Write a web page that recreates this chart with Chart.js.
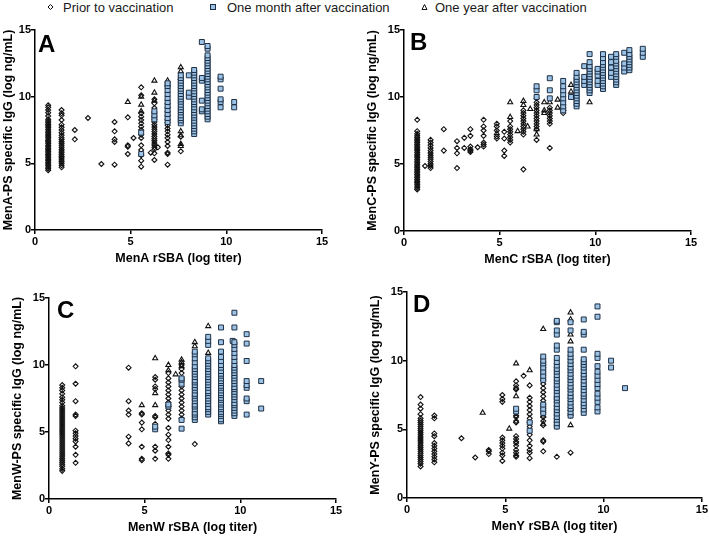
<!DOCTYPE html>
<html>

<head>
    <title>MenACWY rSBA vs PS-specific IgG</title>
    <style>
        body {
            margin: 0;
            background: #fff;
            font-family: "Liberation Sans", Arial, sans-serif;
        }

        #wrap {
            position: relative;
            width: 709px;
            height: 540px;
            overflow: hidden;
        }

        #wrap canvas {
            position: absolute;
            left: 0;
            top: 0;
        }

        .lg {
            position: absolute;
            top: 0;
            height: 15px;
            line-height: 15px;
            font-size: 13px;
            color: #1a1a1a;
            white-space: nowrap;
        }

        .lg svg {
            position: absolute;
            top: 2px;
            left: 0;
        }

        .lg span {
            position: absolute;
        }
    </style>
</head>

<body>
    <div id="wrap">
        <div class="lg" style="left:46px">
            <svg width="9" height="10"><polygon points="4.5,2.5 7,5 4.5,7.5 2,5" fill="none" stroke="#111" stroke-width="1"/></svg>
            <span style="left:17px">Prior to vaccination</span>
        </div>
        <div class="lg" style="left:209px">
            <svg width="9" height="10"><rect x="1.5" y="2.5" width="5" height="5" fill="#9cc3e6" stroke="#1d2f45" stroke-width="1"/></svg>
            <span style="left:18px">One month after vaccination</span>
        </div>
        <div class="lg" style="left:420px">
            <svg width="9" height="10"><polygon points="4.5,2.5 7,7.5 2,7.5" fill="none" stroke="#111" stroke-width="1"/></svg>
            <span style="left:15px">One year after vaccination</span>
        </div>
        <canvas id="panelA" width="709" height="540"></canvas>
        <canvas id="panelB" width="709" height="540"></canvas>
        <canvas id="panelC" width="709" height="540"></canvas>
        <canvas id="panelD" width="709" height="540"></canvas>
    </div>

    <script src="https://cdn.jsdelivr.net/npm/chart.js"></script>

    <script>
        // each entry: [rSBA log titer, [IgG log ng/mL values in that column]]
        const priorA = [
            [0.69, [4.48, 4.6, 4.72, 4.85, 4.95, 5.08, 5.2, 5.3, 5.42, 5.55, 5.65, 5.78, 5.9, 6.0, 6.12, 6.25, 6.35, 6.48, 6.6, 6.7, 6.82, 6.95, 7.05, 7.18, 7.3, 7.42, 7.55, 7.68, 7.8, 7.92, 8.05, 8.18, 8.3, 8.55, 8.8, 9.0, 9.2, 9.35]],
            [1.39, [4.7, 4.85, 5.0, 5.12, 5.25, 5.4, 5.52, 5.65, 5.8, 5.92, 6.05, 6.2, 6.35, 6.5, 6.62, 6.78, 6.92, 7.1, 7.3, 7.5, 7.7, 7.9, 8.25, 8.6, 8.75, 9.0]],
            [2.08, [6.8, 7.5]],
            [2.77, [8.4]],
            [3.47, [4.95]],
            [4.16, [4.9, 6.6, 6.8, 7.4, 8.1]],
            [4.85, [5.7, 6.25, 6.35, 8.45]],
            [5.15, [6.9]],
            [5.55, [4.75, 5.2, 5.6, 6.0, 6.35, 6.9, 7.15, 7.5, 7.75, 8.0, 8.25, 8.5, 8.75, 10.1, 10.7]],
            [6.05, [5.8]],
            [6.24, [5.25, 5.75, 6.05, 6.2, 6.38, 6.52, 6.7, 6.85, 7.02, 7.2, 7.38, 7.55, 7.72, 7.9, 8.1, 8.3, 8.55, 8.85, 9.15, 9.5, 9.8]],
            [6.42, [6.2]],
            [6.93, [4.9, 5.7, 5.8, 6.3, 6.6, 6.9, 7.15, 7.4, 7.62, 7.85, 8.05, 8.3, 8.6, 8.9, 9.2, 9.5]],
            [7.62, [5.9, 7.0]]
        ];
        const monthA = [
            [5.55, [5.7, 7.3]],
            [6.24, [8.3, 8.6, 8.9]],
            [6.93, [8.1, 8.4, 8.7, 9.0, 9.3, 9.6, 9.9, 10.2, 10.5, 10.8, 11.0]],
            [7.62, [8.0, 8.22, 8.4, 8.6, 8.82, 9.0, 9.2, 9.4, 9.62, 9.8, 10.0, 10.2, 10.42, 10.6, 10.8, 11.0, 11.2, 11.4, 11.6]],
            [8.04, [10.0, 10.3, 11.6]],
            [8.32, [7.2, 7.4, 7.6, 7.8, 8.0, 8.2, 8.42, 8.6, 8.8, 9.0, 9.2, 9.42, 9.6, 9.8, 10.0, 10.2, 10.4, 10.62, 10.8, 11.0, 11.2, 11.4, 11.6, 11.8, 12.0]],
            [8.72, [8.9, 9.05, 9.7, 11.2, 11.4, 14.1]],
            [9.02, [8.3, 8.5, 8.7, 8.9, 9.1, 9.3, 9.5, 9.7, 9.9, 10.1, 10.3, 10.5, 10.7, 10.9, 11.1, 11.3, 11.5, 11.7, 11.9, 12.1, 12.3, 12.5, 12.7, 12.9, 13.1, 13.6, 13.8]],
            [9.70, [9.2, 9.6, 9.8, 10.6, 11.3, 11.5]],
            [10.41, [9.2, 9.6]]
        ];
        const yearA = [
            [4.85, [9.6]],
            [5.55, [8.9, 9.4, 10.0]],
            [6.24, [9.7, 10.3, 11.2]],
            [6.93, [10.9, 11.2]],
            [7.62, [6.3, 6.45, 7.1, 7.4, 11.4, 11.9, 12.2]]
        ];

        const priorB = [
            [0.69, [3.1, 3.22, 3.35, 3.48, 3.6, 3.72, 3.85, 3.98, 4.1, 4.22, 4.35, 4.48, 4.6, 4.72, 4.85, 4.98, 5.1, 5.22, 5.35, 5.48, 5.6, 5.72, 5.85, 5.98, 6.1, 6.22, 6.35, 6.48, 6.6, 6.72, 6.85, 6.98, 7.1, 7.25, 7.45, 8.3]],
            [1.10, [4.85]],
            [1.39, [4.7, 4.85, 5.0, 5.18, 5.35, 5.5, 5.65, 5.82, 6.0, 6.2, 6.4, 6.6, 6.8]],
            [2.08, [6.0, 7.6]],
            [2.77, [4.7, 5.8, 6.2, 6.7]],
            [3.15, [6.2, 6.95]],
            [3.47, [5.9, 6.0, 6.1, 6.3, 7.1, 7.6]],
            [3.85, [6.25]],
            [4.16, [6.3, 6.45, 6.6, 7.1, 7.5, 7.8, 8.3]],
            [4.85, [6.9, 7.05, 7.5, 7.8, 8.0]],
            [5.24, [5.6, 6.0, 6.9, 7.4]],
            [5.55, [6.6, 6.8, 7.0, 7.2, 7.4, 7.6, 7.8, 8.2]],
            [6.24, [4.6, 7.2, 7.4, 7.6, 7.8, 8.0, 8.2, 8.4, 8.6, 8.8, 9.0]],
            [6.93, [6.8, 7.6, 7.8, 8.0, 8.2, 8.4, 8.6, 8.8, 9.0, 9.2, 9.4, 9.6, 9.9]],
            [7.62, [6.2, 8.0, 8.2, 8.4, 8.6, 8.8, 9.0, 9.2]],
            [8.32, [8.8, 9.0, 9.2, 9.4]]
        ];
        const monthB = [
            [6.93, [10.0, 10.5, 10.8]],
            [7.62, [9.9, 10.5, 11.4]],
            [8.32, [9.0, 9.3, 9.6, 9.9, 10.2, 10.5, 10.8, 11.2]],
            [8.73, [10.0]],
            [9.02, [9.3, 9.5, 9.7, 9.9, 10.1, 10.3, 10.5, 10.7, 10.9, 11.1, 11.3, 11.5, 11.8]],
            [9.42, [10.9, 11.2, 11.5, 12.3]],
            [9.70, [10.3, 10.5, 10.7, 10.9, 11.1, 11.3, 11.5, 11.7, 11.9, 12.1, 12.3, 12.6, 13.2]],
            [10.12, [10.9, 11.2, 11.6, 11.9, 12.1]],
            [10.40, [10.6, 10.8, 11.0, 11.2, 11.4, 11.6, 11.8, 12.0, 12.2, 12.4, 12.6, 12.9, 13.2]],
            [10.82, [11.5, 11.8, 12.2, 12.6, 13.0]],
            [11.09, [10.9, 11.1, 11.3, 11.5, 11.7, 11.9, 12.1, 12.3, 12.5, 12.7, 13.0, 13.2]],
            [11.51, [11.9, 12.2, 12.5, 13.3]],
            [11.78, [12.0, 12.2, 12.4, 12.6, 12.8, 13.0, 13.2, 13.5]],
            [12.48, [13.0, 13.3, 13.6]]
        ];
        const yearB = [
            [4.85, [7.3]],
            [5.55, [8.5, 9.6]],
            [5.94, [7.45]],
            [6.24, [9.4, 9.7]],
            [6.46, [7.8]],
            [6.60, [9.1]],
            [6.93, [7.2, 7.6]],
            [7.33, [8.8, 9.0, 9.6]],
            [7.62, [9.6]],
            [8.03, [9.2, 9.8]],
            [8.32, [9.1]],
            [8.73, [10.4, 10.9]],
            [9.70, [9.6]]
        ];

        const priorC = [
            [0.69, [2.1, 2.25, 2.45, 2.6, 2.75, 2.9, 3.05, 3.2, 3.35, 3.5, 3.65, 3.8, 3.95, 4.1, 4.25, 4.4, 4.55, 4.7, 4.85, 5.0, 5.15, 5.3, 5.45, 5.6, 5.75, 5.9, 6.05, 6.2, 6.35, 6.5, 6.65, 6.8, 6.95, 7.2, 7.4, 7.6, 7.85, 8.1, 8.3, 8.5]],
            [1.39, [2.7, 3.3, 3.9, 4.3, 4.5, 4.7, 4.9, 5.1, 6.2, 6.3, 7.3, 8.6, 9.9]],
            [4.16, [4.15, 4.65, 6.3, 6.6, 7.3, 9.8]],
            [4.85, [2.9, 3.0, 3.9, 5.2, 5.7, 6.3, 6.4]],
            [5.55, [3.0, 3.6, 3.9, 5.6, 6.1, 6.2, 8.2, 8.4, 8.9, 9.1]],
            [6.24, [3.0, 3.3, 3.4, 3.9, 4.4, 4.8, 5.3, 6.0, 6.3, 6.6, 6.9, 7.2, 7.5, 7.8, 8.1, 8.4, 8.7, 9.0, 9.4]],
            [6.93, [6.0, 6.3, 6.6, 6.9, 7.2, 7.5, 7.8, 8.1, 8.4, 9.4, 9.7, 10.0]],
            [7.62, [4.1]]
        ];
        const monthC = [
            [5.55, [5.2, 5.4]],
            [6.24, [6.9, 7.05]],
            [6.93, [5.25, 5.9, 8.6, 8.9, 9.0]],
            [7.62, [5.9, 6.1, 6.3, 6.45, 6.7, 6.9, 7.05, 7.3, 7.5, 7.7, 7.85, 8.1, 8.3, 8.5, 8.7, 8.85, 9.1, 9.3, 9.5, 9.7, 9.9, 10.2, 10.5, 10.8, 11.0]],
            [8.32, [6.3, 6.5, 6.7, 6.85, 7.1, 7.3, 7.5, 7.7, 7.9, 8.05, 8.3, 8.5, 8.7, 8.9, 9.1, 9.3, 9.5, 9.7, 9.9, 10.1, 10.3, 10.5, 11.5, 11.8, 12.1]],
            [8.99, [5.8, 5.95, 6.2, 6.35, 6.5, 6.7, 6.85, 7.05, 7.2, 7.4, 7.55, 7.75, 7.9, 8.1, 8.3, 8.45, 8.65, 8.8, 9.0, 9.2, 9.35, 9.55, 9.8, 10.0, 10.3, 10.6, 11.0, 11.7, 12.8]],
            [9.60, [11.8]],
            [9.69, [6.2, 6.4, 6.6, 6.8, 7.0, 7.15, 7.4, 7.6, 7.8, 8.0, 8.2, 8.35, 8.6, 8.8, 9.0, 9.2, 9.4, 9.6, 9.8, 10.0, 10.3, 10.6, 10.9, 11.2, 11.5, 11.7, 12.8, 13.9]],
            [10.33, [6.3, 7.3, 7.5, 8.3, 8.5, 8.8, 10.3, 11.6, 12.3]],
            [11.09, [6.75, 8.8]]
        ];
        const yearC = [
            [4.85, [7.0]],
            [5.55, [7.0, 7.9, 10.5]],
            [6.24, [9.6, 10.0]],
            [6.62, [9.3]],
            [6.93, [9.9, 10.2, 10.4]],
            [7.62, [11.4, 11.7]],
            [8.32, [10.9, 12.9]]
        ];

        const priorD = [
            [0.69, [2.3, 2.5, 2.65, 2.8, 2.95, 3.1, 3.25, 3.4, 3.55, 3.7, 3.85, 4.0, 4.15, 4.3, 4.45, 4.6, 4.75, 4.9, 5.05, 5.2, 5.35, 5.5, 5.65, 5.8, 6.1, 6.5, 6.8, 7.35]],
            [1.39, [2.6, 2.8, 3.0, 3.2, 3.4, 3.6, 3.8, 4.0, 4.5, 4.7, 5.8, 6.0]],
            [2.77, [4.35]],
            [3.47, [2.95]],
            [4.16, [3.2, 3.4, 3.5]],
            [4.85, [2.7, 3.1, 3.3, 3.6, 3.8, 4.0, 4.2, 4.4, 7.0, 7.2, 7.5]],
            [5.55, [3.0, 3.1, 3.3, 3.5, 3.8, 4.0, 4.1, 4.3, 4.5, 5.5, 5.6, 5.9, 6.0, 7.9, 8.0, 8.2, 8.5]],
            [5.93, [8.9]],
            [6.24, [2.9, 3.3, 3.5, 3.8, 4.2, 4.6, 5.2, 5.5, 5.8, 6.1, 6.4, 6.7, 7.0, 7.3, 8.2]],
            [6.93, [3.4, 4.1, 4.2, 5.3, 5.6, 5.9, 6.2, 6.5, 6.8, 7.1, 7.4, 7.7, 8.0, 8.3, 8.6, 8.9, 9.2, 9.5, 9.7]],
            [7.62, [3.0, 5.2, 5.5, 5.8, 6.1, 6.4, 6.7, 7.0, 7.3]],
            [8.32, [3.3, 6.0, 6.4]]
        ];
        const monthD = [
            [5.55, [6.3, 6.5]],
            [6.24, [4.9, 5.5]],
            [6.93, [6.2, 6.5, 6.8, 8.6, 8.9, 9.2, 9.5, 9.8, 10.0, 10.3]],
            [7.62, [5.2, 5.45, 5.7, 5.9, 6.15, 6.4, 6.6, 6.85, 7.1, 7.3, 7.55, 7.8, 8.0, 8.25, 8.5, 8.7, 8.95, 9.2, 9.4, 9.65, 9.9, 10.2, 10.8, 11.1, 11.9, 12.2, 12.8, 12.9]],
            [8.32, [6.0, 6.25, 6.5, 6.7, 6.95, 7.2, 7.4, 7.65, 7.9, 8.1, 8.35, 8.6, 8.8, 9.05, 9.3, 9.5, 9.75, 10.0, 10.25, 10.5, 10.8, 12.2, 12.8]],
            [8.99, [6.2, 6.45, 6.7, 6.9, 7.15, 7.4, 7.6, 7.85, 8.1, 8.3, 8.55, 8.8, 9.0, 9.25, 9.5, 9.7, 9.9, 10.1, 10.8, 11.9, 12.1, 13.0]],
            [9.69, [6.3, 6.6, 7.0, 7.3, 7.6, 8.0, 8.3, 8.6, 8.9, 9.2, 9.6, 10.2, 10.5, 13.2, 13.95]],
            [10.38, [9.5, 10.0]],
            [11.09, [8.0]]
        ];
        const yearD = [
            [3.85, [6.2]],
            [5.20, [5.05]],
            [5.55, [7.4, 9.8]],
            [6.24, [9.3]],
            [6.93, [5.4, 6.0, 12.3]],
            [8.32, [5.3, 11.4, 11.9, 13.0, 13.5]]
        ];

        const FONT = '"Liberation Sans", Arial, sans-serif';
        Chart.defaults.font.family = FONT;

        const toPoints = cols => cols.flatMap(([x, ys]) => ys.map(y => ({ x: x, y: y })));

        const letterPlugin = {
            id: 'letter',
            afterDraw(chart, args, opts) {
                const ctx = chart.ctx;
                const area = chart.chartArea;
                ctx.save();
                ctx.font = 'bold 24px ' + FONT;
                ctx.fillStyle = '#000';
                ctx.textBaseline = 'alphabetic';
                ctx.fillText(opts.text, area.left + opts.dx, area.top + opts.dy);
                ctx.restore();
            }
        };

        // box: padLeft, yWidth, top, right, bottom (chart area in page pixels)
        function makePanel(id, letter, xTitle, yTitle, prior, month, year, box) {
            const tickFont = { family: FONT, size: 11, weight: 'bold' };
            const titleFont = { family: FONT, size: 12.5, weight: 'bold' };
            new Chart(document.getElementById(id), {
                type: 'scatter',
                data: {
                    datasets: [
                        {
                            label: 'One month after vaccination',
                            data: toPoints(month),
                            pointStyle: 'rect',
                            pointRadius: 3.5,
                            backgroundColor: '#9cc3e6',
                            borderColor: '#1d2f45',
                            borderWidth: 1,
                            order: 0
                        },
                        {
                            label: 'One year after vaccination',
                            data: toPoints(year),
                            pointStyle: 'triangle',
                            pointRadius: 2.9,
                            backgroundColor: 'rgba(255,255,255,0)',
                            borderColor: '#111',
                            borderWidth: 1.1,
                            order: 1
                        },
                        {
                            label: 'Prior to vaccination',
                            data: toPoints(prior),
                            pointStyle: 'rectRot',
                            pointRadius: 2.5,
                            backgroundColor: 'rgba(255,255,255,0)',
                            borderColor: '#111',
                            borderWidth: 1.1,
                            order: 2
                        }
                    ]
                },
                options: {
                    responsive: false,
                    animation: false,
                    events: [],
                    layout: {
                        padding: {
                            left: box.padLeft,
                            top: box.top,
                            right: 709 - box.right,
                            bottom: 540 - box.bottom - 36
                        }
                    },
                    plugins: {
                        legend: { display: false },
                        tooltip: { enabled: false },
                        letter: { text: letter, dx: box.ldx, dy: box.ldy }
                    },
                    scales: {
                        x: {
                            type: 'linear',
                            min: 0,
                            max: 15,
                            ticks: { stepSize: 5, color: '#000', font: tickFont, padding: 1 },
                            grid: { drawOnChartArea: false, drawTicks: true, tickLength: 4, color: '#000', lineWidth: 1.5 },
                            border: { color: '#000', width: 1.5 },
                            title: { display: true, text: xTitle, color: '#000', font: titleFont, padding: 0 },
                            afterFit: s => { s.height = 36; }
                        },
                        y: {
                            min: 0,
                            max: 15,
                            ticks: { stepSize: 5, color: '#000', font: tickFont, padding: 0 },
                            grid: { drawOnChartArea: false, drawTicks: true, tickLength: 4, color: '#000', lineWidth: 1.5 },
                            border: { color: '#000', width: 1.5 },
                            title: { display: true, text: yTitle, color: '#000', font: titleFont, padding: { top: 1.5, bottom: 0 } },
                            afterFit: s => { s.width = box.yWidth; }
                        }
                    }
                },
                plugins: [letterPlugin]
            });
        }

        makePanel('panelA', 'A', 'MenA rSBA (log titer)', 'MenA-PS specific IgG (log ng/mL)', priorA, monthA, yearA,
            { padLeft: 0, yWidth: 35, top: 30, right: 322, bottom: 230, ldx: 3, ldy: 21.5 });
        makePanel('panelB', 'B', 'MenC rSBA (log titer)', 'MenC-PS specific IgG (log ng/mL)', priorB, monthB, yearB,
            { padLeft: 364, yWidth: 40, top: 30, right: 691, bottom: 231, ldx: 6, ldy: 20 });
        makePanel('panelC', 'C', 'MenW rSBA (log titer)', 'MenW-PS specific IgG (log ng/mL)', priorC, monthC, yearC,
            { padLeft: 9, yWidth: 40, top: 298, right: 336, bottom: 499, ldx: 8, ldy: 20 });
        makePanel('panelD', 'D', 'MenY rSBA (log titer)', 'MenY-PS specific IgG (log ng/mL)', priorD, monthD, yearD,
            { padLeft: 366.5, yWidth: 40.5, top: 292, right: 703, bottom: 498, ldx: 6, ldy: 19.5 });
    </script>
</body>

</html>
